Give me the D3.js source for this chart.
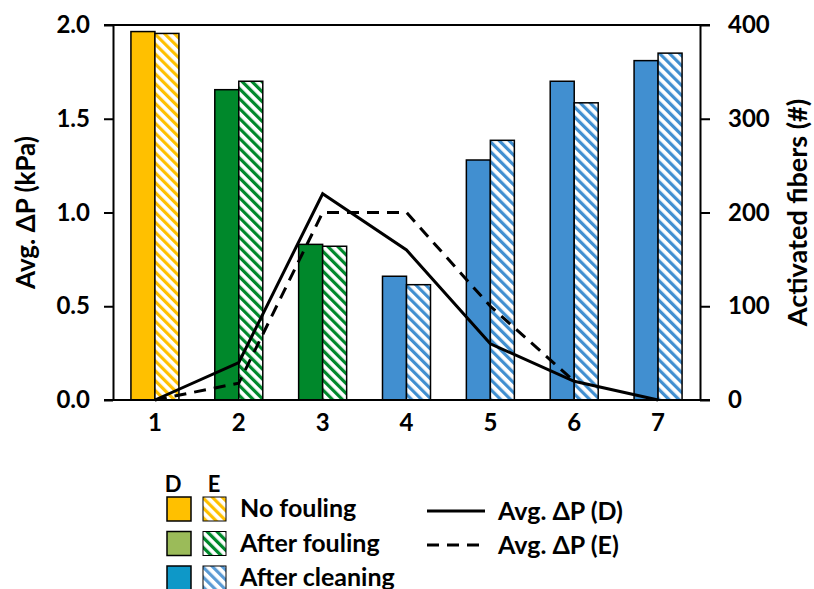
<!DOCTYPE html>
<html>
<head>
<meta charset="utf-8">
<script src="https://cdn.jsdelivr.net/npm/d3@7"></script>
<style>
  body { margin: 0; background: #fff; }
  text { font-family: Lato, "Open Sans", sans-serif; font-weight: bold; fill: #000; }
</style>
</head>
<body>
<div class="viz"></div>
<script>
// categories on the x axis
const categories = ["1", "2", "3", "4", "5", "6", "7"];
// activated fibers (#), right axis
const fibersD = [393, 331, 166, 132, 256, 340, 362];
const fibersE = [391, 340, 164, 123, 277, 317, 370];
// condition of each category (selects the bar colour)
const conditions = ["none", "fouled", "fouled", "cleaned", "cleaned", "cleaned", "cleaned"];
// avg pressure drop (kPa), left axis
const dpD = [0, 0.2, 1.1, 0.8, 0.3, 0.1, 0];
const dpE = [0, 0.09, 1.0, 1.0, 0.5, 0.1];
const leftTicks = [0, 0.5, 1.0, 1.5, 2.0];
const rightTicks = [0, 100, 200, 300, 400];

const width = 814, height = 589;
const margin = ({top: 25, right: 114, bottom: 189, left: 113});

const barColor = {none: "#FFC000", fouled: "#00882B", cleaned: "#418FD0"};

const svg = d3.select('.viz').append('svg')
    .attr('width', width)
    .attr('height', height);

const defs = svg.append("defs");
const hatch = (id, color) => {
  const p = defs.append("pattern")
      .attr("id", id)
      .attr("patternUnits", "userSpaceOnUse")
      .attr("width", 7).attr("height", 7)
      .attr("patternTransform", "rotate(-45)");
  p.append("rect").attr("width", 7).attr("height", 7).attr("fill", "#fff");
  p.append("rect").attr("width", 3.2).attr("height", 7).attr("fill", color);
};
hatch("h-none", "#FFC000");
hatch("h-fouled", "#00882B");
hatch("h-cleaned", "#418FD0");
hatch("h-leg-cleaned", "#5B9BD5");

const x = d3.scaleBand()
    .domain(categories)
    .range([margin.left, width - margin.right]);

const xs = d3.scaleBand()
    .domain(["D", "E"])
    .range([0, x.bandwidth()])
    .paddingOuter(0.747);

const yL = d3.scaleLinear()
    .domain([0, 2])
    .range([height - margin.bottom, margin.top]);

const yR = d3.scaleLinear()
    .domain([0, 400])
    .range([height - margin.bottom, margin.top]);

// top frame line
svg.append("line")
    .attr("x1", margin.left - 9).attr("x2", width - margin.right + 10)
    .attr("y1", yL(2)).attr("y2", yL(2))
    .attr("stroke", "#000").attr("stroke-width", 2);

const data = categories.map((c, i) => ({cat: c, cond: conditions[i], d: fibersD[i], e: fibersE[i]}));

const g = svg.append("g");
g.selectAll("rect.d").data(data).enter().append("rect")
    .attr("class", "d")
    .attr("x", d => x(d.cat) + xs("D"))
    .attr("y", d => yR(d.d))
    .attr("width", xs.bandwidth())
    .attr("height", d => yR(0) - yR(d.d))
    .attr("fill", d => barColor[d.cond])
    .attr("stroke", "#000").attr("stroke-width", 1.5);

g.selectAll("rect.e").data(data).enter().append("rect")
    .attr("class", "e")
    .attr("x", d => x(d.cat) + xs("E"))
    .attr("y", d => yR(d.e))
    .attr("width", xs.bandwidth())
    .attr("height", d => yR(0) - yR(d.e))
    .attr("fill", d => `url(#h-${d.cond})`)
    .attr("stroke", "#000").attr("stroke-width", 1.5);

const line = d3.line()
    .x((d, i) => x(categories[i]) + x.bandwidth() / 2)
    .y(d => yL(d));

svg.append("path").datum(dpD)
    .attr("d", line)
    .attr("fill", "none").attr("stroke", "#000").attr("stroke-width", 3);

svg.append("path").datum(dpE)
    .attr("d", line)
    .attr("fill", "none").attr("stroke", "#000").attr("stroke-width", 3)
    .attr("stroke-dasharray", "12,8");

// axes
const yAxisL = g => g
    .attr("transform", `translate(${margin.left},0)`)
    .call(d3.axisLeft(yL).tickValues(leftTicks).tickFormat(d3.format(".1f")).tickSize(9).tickSizeOuter(0).tickPadding(14));

const yAxisR = g => g
    .attr("transform", `translate(${width - margin.right},0)`)
    .call(d3.axisRight(yR).tickValues(rightTicks).tickSize(10).tickSizeOuter(0).tickPadding(18));

const xAxis = g => g
    .attr("transform", `translate(0,${height - margin.bottom})`)
    .call(d3.axisBottom(x).tickSize(0).tickSizeOuter(0).tickPadding(14));

const styleAxis = g => {
  g.selectAll(".domain").attr("stroke", "#000").attr("stroke-width", 2);
  g.selectAll(".tick line").attr("stroke", "#000").attr("stroke-width", 2);
  g.selectAll(".tick text").style("font-family", "Lato, sans-serif").style("font-weight", "bold")
      .style("font-size", "24px").attr("fill", "#000");
};

svg.append("g").call(yAxisL).call(styleAxis);
svg.append("g").call(yAxisR).call(styleAxis);
svg.append("g").call(xAxis).call(styleAxis)
    .call(g => g.select(".domain").attr("d", `M${margin.left - 9},0H${width - margin.right + 10}`));

// axis titles
svg.append("text")
    .attr("transform", `translate(35,${(yL(0) + yL(2)) / 2}) rotate(-90)`)
    .attr("text-anchor", "middle")
    .style("font-size", "26px")
    .text("Avg. ΔP (kPa)");

svg.append("text")
    .attr("transform", `translate(807,${(yL(0) + yL(2)) / 2}) rotate(-90)`)
    .attr("text-anchor", "middle")
    .style("font-size", "27px")
    .text("Activated fibers (#)");

// legend
const legendRows = ["No fouling", "After fouling", "After cleaning"];
const legendSolid = ["#FFC000", "#9BBB59", "#0E98C8"];
const legendHatch = ["h-none", "h-fouled", "h-leg-cleaned"];
const leg = svg.append("g");
leg.append("text").attr("x", 173).attr("y", 492).attr("text-anchor", "middle").style("font-size", "22px").text("D");
leg.append("text").attr("x", 214).attr("y", 492).attr("text-anchor", "middle").style("font-size", "22px").text("E");
legendRows.forEach((r, i) => {
  const y0 = 497 + i * 34.5;
  leg.append("rect").attr("x", 167).attr("y", y0).attr("width", 24).attr("height", 24)
      .attr("fill", legendSolid[i]).attr("stroke", "#000").attr("stroke-width", 1.5);
  leg.append("rect").attr("x", 203).attr("y", y0).attr("width", 23).attr("height", 24)
      .attr("fill", `url(#${legendHatch[i]})`).attr("stroke", "#000").attr("stroke-width", 1);
  leg.append("text").attr("x", 240).attr("y", y0 + 20).style("font-size", "25px").text(r);
});

const lineRows = [{label: "Avg. ΔP (D)", dash: null}, {label: "Avg. ΔP (E)", dash: "12,8"}];
lineRows.forEach((r, i) => {
  const yy = 511 + i * 34;
  leg.append("line").attr("x1", 427).attr("x2", 485).attr("y1", yy).attr("y2", yy)
      .attr("stroke", "#000").attr("stroke-width", 3)
      .attr("stroke-dasharray", r.dash);
  leg.append("text").attr("x", 498).attr("y", yy + 9).style("font-size", "25px").text(r.label);
});
</script>
</body>
</html>
